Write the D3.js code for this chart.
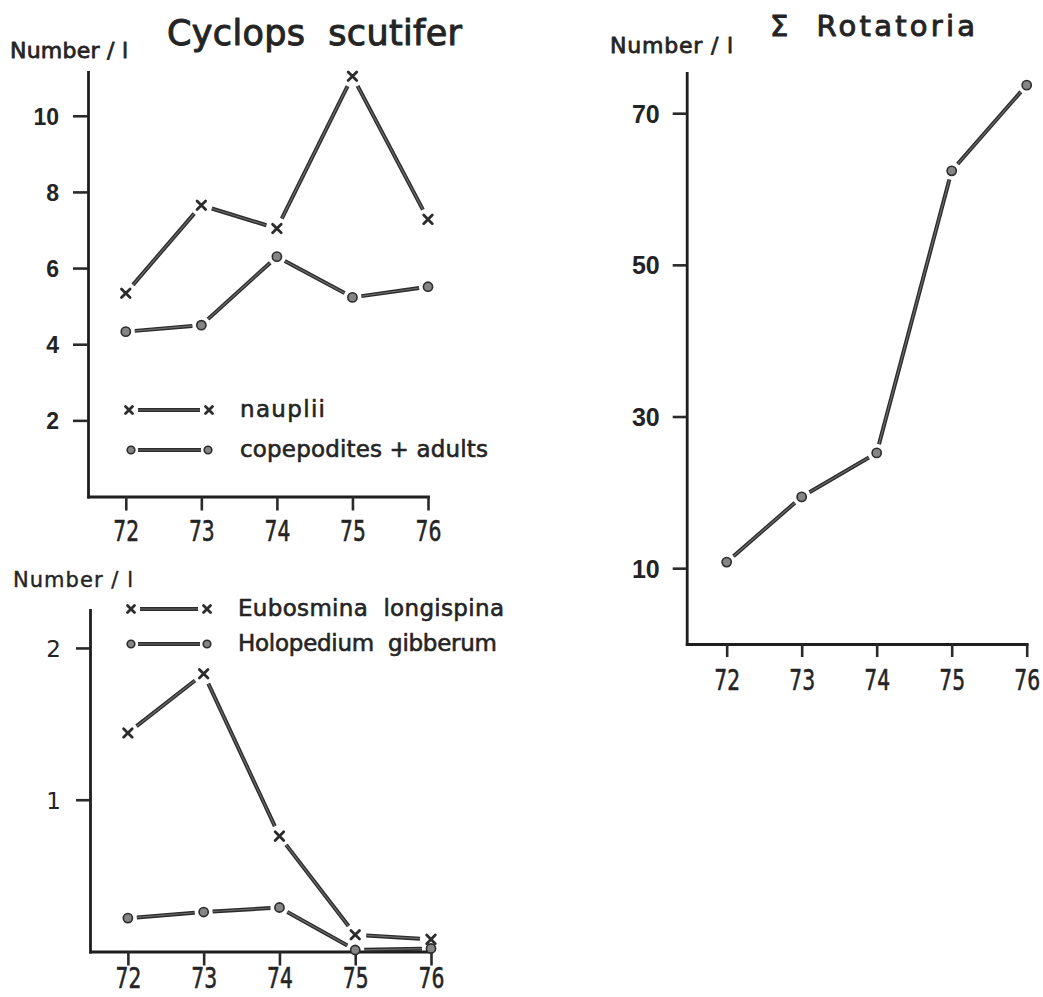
<!DOCTYPE html>
<html>
<head>
<meta charset="utf-8">
<script src="https://cdn.jsdelivr.net/npm/d3@7/dist/d3.min.js"></script>
<style>
  html, body { margin: 0; padding: 0; background: #ffffff; }
  svg { display: block; }
  text { fill: #242424; }
</style>
</head>
<body>
<svg id="chart" width="1043" height="997"></svg>
<script>
// Sampling years (19xx)
const years = [72, 73, 74, 75, 76];

// Cyclops scutifer, number per litre
const naupliiValues    = [5.34, 7.65, 7.04, 11.04, 7.28];
const copepoditeValues = [4.33, 4.50, 6.30, 5.23, 5.51];

// Cladocera, number per litre
const eubosminaValues  = [1.44, 1.83, 0.76, 0.11, 0.08];
const holopediumValues = [0.22, 0.26, 0.29, 0.01, 0.02];

// Sum of Rotatoria, number per litre
const rotatoriaValues  = [10.8, 19.4, 25.2, 62.4, 73.7];

// Axis tick labels
const yearTicks      = [72, 73, 74, 75, 76];
const cyclopsTicks   = [2, 4, 6, 8, 10];
const cladoceraTicks = [1, 2];
const rotatoriaTicks = [10, 30, 50, 70];

// Titles and legend labels
const cyclopsTitle   = "Cyclops\u00A0\u00A0scutifer";
const rotatoriaTitle = "\u03A3\u00A0\u00A0Rotatoria";
const yUnitLabel     = "Number / l";
const cyclopsNames   = ["nauplii", "copepodites + adults"];
const cladoceraNames = ["Eubosmina\u00A0\u00A0longispina", "Holopedium\u00A0\u00A0gibberum"];

const svg = d3.select("#chart");
svg.append("rect").attr("width", 1043).attr("height", 997).attr("fill", "#ffffff");

const INK = "#262626";
const LINE_DARK = "#2c2c2c";
const LINE_CORE = "#6c6c6c";
const WORD_FONT = "'DejaVu Sans', 'Noto Sans', sans-serif";
const BOLD_DIGIT_FONT = "'Liberation Sans', 'DejaVu Sans', sans-serif";

// Lettering-stencil look: regular glyphs thickened with a thin outline
function inked(sel, w) {
  return sel.attr("stroke", INK).attr("stroke-width", w).attr("stroke-linejoin", "round");
}

// Segment between two pixel points, trimmed at both ends so markers stand free
function trimmedSegment(g, p, q, gapA, gapB) {
  const dx = q[0] - p[0], dy = q[1] - p[1];
  const len = Math.hypot(dx, dy);
  if (len <= gapA + gapB) return;
  const ux = dx / len, uy = dy / len;
  const x1 = p[0] + ux * gapA, y1 = p[1] + uy * gapA;
  const x2 = q[0] - ux * gapB, y2 = q[1] - uy * gapB;
  g.append("line").attr("x1", x1).attr("y1", y1).attr("x2", x2).attr("y2", y2)
    .attr("stroke", LINE_DARK).attr("stroke-width", 4).attr("stroke-linecap", "butt");
  g.append("line").attr("x1", x1).attr("y1", y1).attr("x2", x2).attr("y2", y2)
    .attr("stroke", LINE_CORE).attr("stroke-width", 1.2).attr("stroke-linecap", "butt");
}

function drawCross(g, x, y, s) {
  g.append("path")
    .attr("d", `M${x - s},${y - s}L${x + s},${y + s}M${x - s},${y + s}L${x + s},${y - s}`)
    .attr("stroke", LINE_DARK).attr("stroke-width", 2.8).attr("stroke-linecap", "round")
    .attr("fill", "none");
}

function drawDot(g, x, y, r) {
  g.append("circle").attr("cx", x).attr("cy", y).attr("r", r)
    .attr("fill", "#858585").attr("stroke", LINE_DARK).attr("stroke-width", 1.6);
}

function drawSeries(g, x, y, values, marker) {
  const pts = years.map((yr, i) => [x(yr), y(values[i])]);
  const gap = marker === "cross" ? 11 : 9;
  d3.pairs(pts).forEach(([p, q]) => trimmedSegment(g, p, q, gap, gap));
  pts.forEach(p => marker === "cross" ? drawCross(g, p[0], p[1], 4.3) : drawDot(g, p[0], p[1], 4.6));
}

function drawAxes(g, x, y, yTicks, opt) {
  const xAxis = d3.axisBottom(x).tickValues(yearTicks).tickFormat(d3.format("d"))
    .tickSizeInner(opt.xTickLen).tickSizeOuter(0);
  const gx = g.append("g").attr("transform", `translate(0,${y(0)})`).call(xAxis);
  gx.selectAll("text")
    .attr("dy", null).attr("y", 0)
    .attr("transform", `translate(0,${opt.xLabelBaseline - y(0)}) scale(0.7,1)`)
    .style("font-family", WORD_FONT).style("font-size", "29px").attr("fill", INK);
  inked(gx.selectAll("text"), 0.6);

  const yAxis = d3.axisLeft(y).tickValues(yTicks).tickFormat(d3.format("d"))
    .tickSizeInner(opt.yTickLen).tickSizeOuter(0).tickPadding(opt.yPad);
  const gy = g.append("g").attr("transform", `translate(${x.range()[0]},0)`).call(yAxis);
  gy.selectAll("text")
    .attr("dy", "0.36em")
    .style("font-family", opt.yFont).style("font-size", opt.yFontSize + "px")
    .style("font-weight", opt.yWeight).attr("fill", INK);

  [gx, gy].forEach(a => {
    a.select(".domain").attr("stroke", "#1e1e1e").attr("stroke-width", 2.8).attr("stroke-linecap", "square");
    a.selectAll(".tick line").attr("stroke", "#2a2a2a").attr("stroke-width", 2.6);
  });
}

function drawLegendRow(g, x1, x2, yRow, marker, label, textX, textLen, size) {
  const gap = marker === "cross" ? 9 : 7;
  trimmedSegment(g, [x1, yRow], [x2, yRow], gap, gap);
  if (marker === "cross") { drawCross(g, x1, yRow, 3.5); drawCross(g, x2, yRow, 3.5); }
  else { drawDot(g, x1, yRow, 3.8); drawDot(g, x2, yRow, 3.8); }
  inked(g.append("text").attr("x", textX).attr("y", yRow + 7)
    .attr("textLength", textLen).attr("lengthAdjust", "spacing")
    .style("font-family", WORD_FONT).style("font-size", size + "px").text(label), 0.6);
}

// ---------- Cyclops scutifer ----------
{
  const g = svg.append("g");
  const x = d3.scaleLinear().domain([71.5, 76]).range([88, 428]);
  const y = d3.scaleLinear().domain([0, 11.15]).range([496.5, 72]);
  drawAxes(g, x, y, cyclopsTicks, {
    xTickLen: 14, xLabelBaseline: 541, yTickLen: 15, yPad: 14,
    yFont: BOLD_DIGIT_FONT, yFontSize: 23, yWeight: "bold"
  });
  drawSeries(g, x, y, naupliiValues, "cross");
  drawSeries(g, x, y, copepoditeValues, "dot");

  inked(g.append("text").attr("x", 167).attr("y", 45)
    .attr("textLength", 295).attr("lengthAdjust", "spacing")
    .style("font-family", WORD_FONT).style("font-size", "35px").text(cyclopsTitle), 1);
  inked(g.append("text").attr("x", 10).attr("y", 58)
    .attr("textLength", 118).attr("lengthAdjust", "spacing")
    .style("font-family", WORD_FONT).style("font-size", "22px")
    .text(yUnitLabel), 0.8);

  drawLegendRow(g, 129, 209, 410, "cross", cyclopsNames[0], 240, 85, 23);
  drawLegendRow(g, 131, 208, 450, "dot", cyclopsNames[1], 240, 248, 23);
}

// ---------- Eubosmina / Holopedium ----------
{
  const g = svg.append("g");
  const x = d3.scaleLinear().domain([71.5, 76]).range([90, 431]);
  const y = d3.scaleLinear().domain([0, 2.25]).range([951.5, 610]);
  drawAxes(g, x, y, cladoceraTicks, {
    xTickLen: 14, xLabelBaseline: 988, yTickLen: 14, yPad: 15,
    yFont: WORD_FONT, yFontSize: 23, yWeight: "normal"
  });
  drawSeries(g, x, y, eubosminaValues, "cross");
  drawSeries(g, x, y, holopediumValues, "dot");

  inked(g.append("text").attr("x", 13).attr("y", 587)
    .attr("textLength", 120).attr("lengthAdjust", "spacing")
    .style("font-family", WORD_FONT).style("font-size", "21px").text(yUnitLabel), 0.4);

  drawLegendRow(g, 131, 207, 609, "cross", cladoceraNames[0], 238, 266, 23);
  drawLegendRow(g, 131, 207, 644, "dot", cladoceraNames[1], 238, 259, 23);
}

// ---------- Rotatoria ----------
{
  const g = svg.append("g");
  const x = d3.scaleLinear().domain([71.467, 76]).range([686.7, 1026.7]);
  const y = d3.scaleLinear().domain([0, 75.3]).range([644, 73]);
  drawAxes(g, x, y, rotatoriaTicks, {
    xTickLen: 13, xLabelBaseline: 690, yTickLen: 14, yPad: 13,
    yFont: BOLD_DIGIT_FONT, yFontSize: 25, yWeight: "bold"
  });
  drawSeries(g, x, y, rotatoriaValues, "dot");

  inked(g.append("text").attr("x", 770).attr("y", 36)
    .attr("textLength", 205).attr("lengthAdjust", "spacing")
    .style("font-family", WORD_FONT).style("font-size", "29px").text(rotatoriaTitle), 1);
  inked(g.append("text").attr("x", 610).attr("y", 53)
    .attr("textLength", 123).attr("lengthAdjust", "spacing")
    .style("font-family", WORD_FONT).style("font-size", "22px")
    .text(yUnitLabel), 0.8);
}
</script>
</body>
</html>
